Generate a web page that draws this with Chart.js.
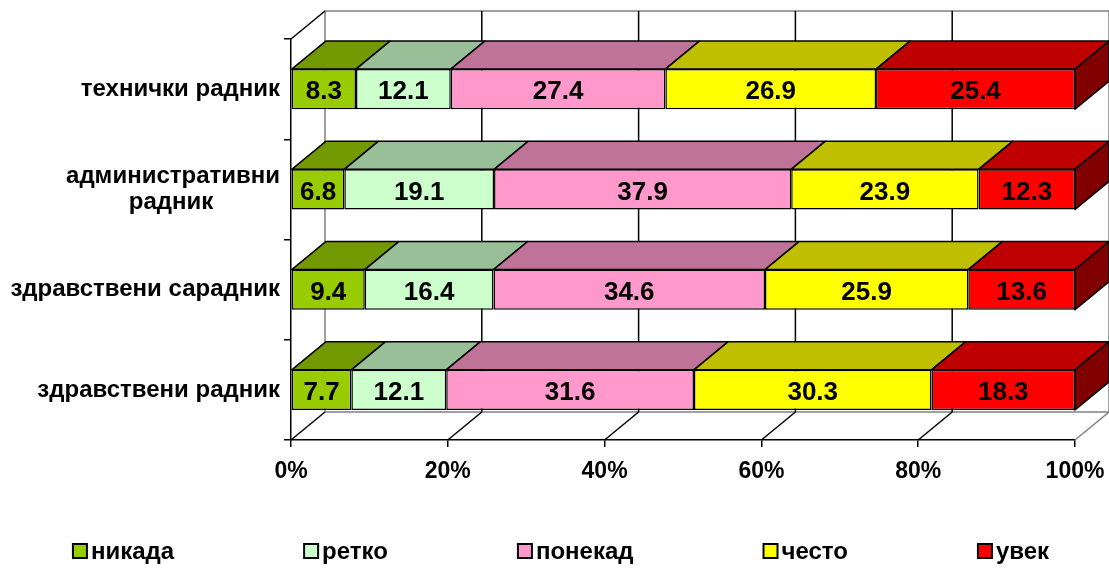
<!DOCTYPE html>
<html>
<head>
<meta charset="utf-8">
<script src="https://cdn.jsdelivr.net/npm/chart.js@4.4.1/dist/chart.umd.min.js"></script>
<style>
  html, body { margin: 0; padding: 0; background: #fff; }
</style>
</head>
<body>
<canvas id="chart" width="1109" height="568"></canvas>
<script>
const categories = [
  "технички радник",
  ["административни", "радник"],
  "здравствени сарадник",
  "здравствени радник"
];
const seriesNames = ["никада", "ретко", "понекад", "често", "увек"];
const nikada = [8.3, 6.8, 9.4, 7.7];
const retko = [12.1, 19.1, 16.4, 12.1];
const ponekad = [27.4, 37.9, 34.6, 31.6];
const cesto = [26.9, 23.9, 25.9, 30.3];
const uvek = [25.4, 12.3, 13.6, 18.3];
const xTicks = [0, 20, 40, 60, 80, 100];

const series = [nikada, retko, ponekad, cesto, uvek];

const palette = {
  front: ["#99CC00", "#CCFFCC", "#FF99CC", "#FFFF00", "#FF0000"],
  top: ["#739900", "#99BF99", "#BF7399", "#BFBF00", "#BF0000"],
  side: ["#4D6600", "#668066", "#804D66", "#808000", "#800000"],
  wall: "#808080"
};

const FONT = '"Liberation Sans", Arial, sans-serif';
const LABEL_SIZE = 24;
const DX = 34;
const DY = -28;

// 100% stacked: each row is scaled to its own total
const rowTotals = categories.map((_, i) => series.reduce((sum, arr) => sum + arr[i], 0));

function centerLines(value) {
  const label = this.getLabelForValue(value);
  if (!Array.isArray(label)) return label;
  const ctx = this.chart.ctx;
  ctx.save();
  ctx.font = `bold ${LABEL_SIZE}px ${FONT}`;
  const widths = label.map((line) => ctx.measureText(line).width);
  const widest = Math.max(...widths);
  const space = ctx.measureText("\u00a0").width;
  ctx.restore();
  return label.map((line, i) => line + "\u00a0".repeat(Math.round((widest - widths[i]) / 2 / space)));
}

const depthPlugin = {
  id: "depth3d",
  beforeDatasetsDraw(chart) {
    const { ctx, chartArea: a, scales: { x } } = chart;
    ctx.save();
    ctx.lineWidth = 1.5;

    // back wall + floor outline
    ctx.strokeStyle = palette.wall;
    ctx.beginPath();
    ctx.moveTo(a.left + DX, a.bottom + DY);
    ctx.lineTo(a.left + DX, a.top + DY);
    ctx.lineTo(a.right + DX, a.top + DY);
    ctx.lineTo(a.right + DX, a.bottom + DY);
    ctx.lineTo(a.left + DX, a.bottom + DY);
    ctx.moveTo(a.right, a.bottom);
    ctx.lineTo(a.right + DX, a.bottom + DY);
    ctx.stroke();

    ctx.strokeStyle = "#000";
    x.ticks.forEach((tick) => {
      const px = x.getPixelForValue(tick.value);
      ctx.beginPath();
      if (tick.value > x.min && tick.value < x.max) {
        ctx.moveTo(px + DX, a.top + DY);
        ctx.lineTo(px + DX, a.bottom + DY);
      }
      if (tick.value < x.max) {
        ctx.moveTo(px, a.bottom);
        ctx.lineTo(px + DX, a.bottom + DY);
      }
      ctx.stroke();
    });

    ctx.beginPath();
    ctx.moveTo(a.left, a.top);
    ctx.lineTo(a.left + DX, a.top + DY);
    ctx.stroke();
    ctx.restore();
  },
  afterDatasetsDraw(chart) {
    const { ctx } = chart;
    const last = chart.data.datasets.length - 1;
    ctx.save();
    ctx.lineWidth = 1.5;
    ctx.strokeStyle = "#000";
    ctx.lineJoin = "round";

    chart.data.datasets.forEach((dataset, di) => {
      chart.getDatasetMeta(di).data.forEach((bar) => {
        const { x, y, base, height } = bar.getProps(["x", "y", "base", "height"], true);
        const left = Math.min(x, base);
        const right = Math.max(x, base);
        const top = y - height / 2;
        const bottom = y + height / 2;

        ctx.fillStyle = palette.top[di];
        ctx.beginPath();
        ctx.moveTo(left, top);
        ctx.lineTo(left + DX, top + DY);
        ctx.lineTo(right + DX, top + DY);
        ctx.lineTo(right, top);
        ctx.closePath();
        ctx.fill();
        ctx.stroke();

        if (di === last) {
          ctx.fillStyle = palette.side[di];
          ctx.beginPath();
          ctx.moveTo(right, top);
          ctx.lineTo(right + DX, top + DY);
          ctx.lineTo(right + DX, bottom + DY);
          ctx.lineTo(right, bottom);
          ctx.closePath();
          ctx.fill();
          ctx.stroke();
        }
      });
    });

    ctx.fillStyle = "#000";
    ctx.font = `bold 26px ${FONT}`;
    ctx.textAlign = "center";
    ctx.textBaseline = "middle";
    chart.data.datasets.forEach((dataset, di) => {
      chart.getDatasetMeta(di).data.forEach((bar, i) => {
        const { x, y, base } = bar.getProps(["x", "y", "base"], true);
        ctx.fillText(series[di][i].toFixed(1), (x + base) / 2, y + 3);
      });
    });
    ctx.restore();
  },
  afterDraw(chart) {
    const { ctx } = chart;
    const box = 14;
    const gap = 4;
    const spacing = 130;
    const yMid = 551;
    ctx.save();
    ctx.font = `bold ${LABEL_SIZE}px ${FONT}`;
    const widths = chart.data.datasets.map((d) => ctx.measureText(d.label).width);
    const total = widths.reduce((s, w) => s + box + gap + w, 0) + spacing * (widths.length - 1);
    let pos = 561 - total / 2;
    chart.data.datasets.forEach((d, i) => {
      ctx.fillStyle = d.backgroundColor;
      ctx.fillRect(pos, yMid - box / 2, box, box);
      ctx.lineWidth = 2;
      ctx.strokeStyle = "#000";
      ctx.strokeRect(pos, yMid - box / 2, box, box);
      ctx.fillStyle = "#000";
      ctx.textAlign = "left";
      ctx.textBaseline = "middle";
      ctx.fillText(d.label, pos + box + gap, yMid + 1);
      pos += box + gap + widths[i] + spacing;
    });
    ctx.restore();
  }
};

new Chart(document.getElementById("chart"), {
  type: "bar",
  data: {
    labels: categories,
    datasets: series.map((values, di) => ({
      label: seriesNames[di],
      data: values.map((v, i) => (v / rowTotals[i]) * 100),
      backgroundColor: palette.front[di],
      borderColor: "#000",
      borderWidth: 1.5,
      borderSkipped: false,
      barPercentage: 0.4,
      categoryPercentage: 1
    }))
  },
  options: {
    indexAxis: "y",
    responsive: false,
    animation: false,
    layout: { padding: { top: 39, right: 34, bottom: 40, left: 0 } },
    plugins: {
      legend: { display: false },
      tooltip: { enabled: false }
    },
    scales: {
      x: {
        stacked: true,
        min: 0,
        max: 100,
        afterBuildTicks: (scale) => { scale.ticks = xTicks.map((v) => ({ value: v })); },
        afterFit: (scale) => {
          scale.height = 88;
          scale.paddingLeft = 0;
          scale.paddingRight = 0;
        },
        grid: { drawOnChartArea: false, tickLength: 7, color: "#000", lineWidth: 1.5 },
        border: { display: true, color: "#000", width: 1.5 },
        ticks: {
          callback: (v) => v + "%",
          padding: 11,
          maxRotation: 0,
          color: "#000",
          font: { family: FONT, size: 23, weight: "bold" }
        }
      },
      y: {
        stacked: true,
        afterFit: (scale) => { scale.width = 291; },
        grid: { drawOnChartArea: false, tickLength: 7, color: "#000", lineWidth: 1.5 },
        border: { display: true, color: "#000", width: 1.5 },
        ticks: {
          callback: centerLines,
          padding: 4,
          color: "#000",
          font: { family: FONT, size: LABEL_SIZE, weight: "bold", lineHeight: 1.05 }
        }
      }
    }
  },
  plugins: [depthPlugin]
});
</script>
</body>
</html>
